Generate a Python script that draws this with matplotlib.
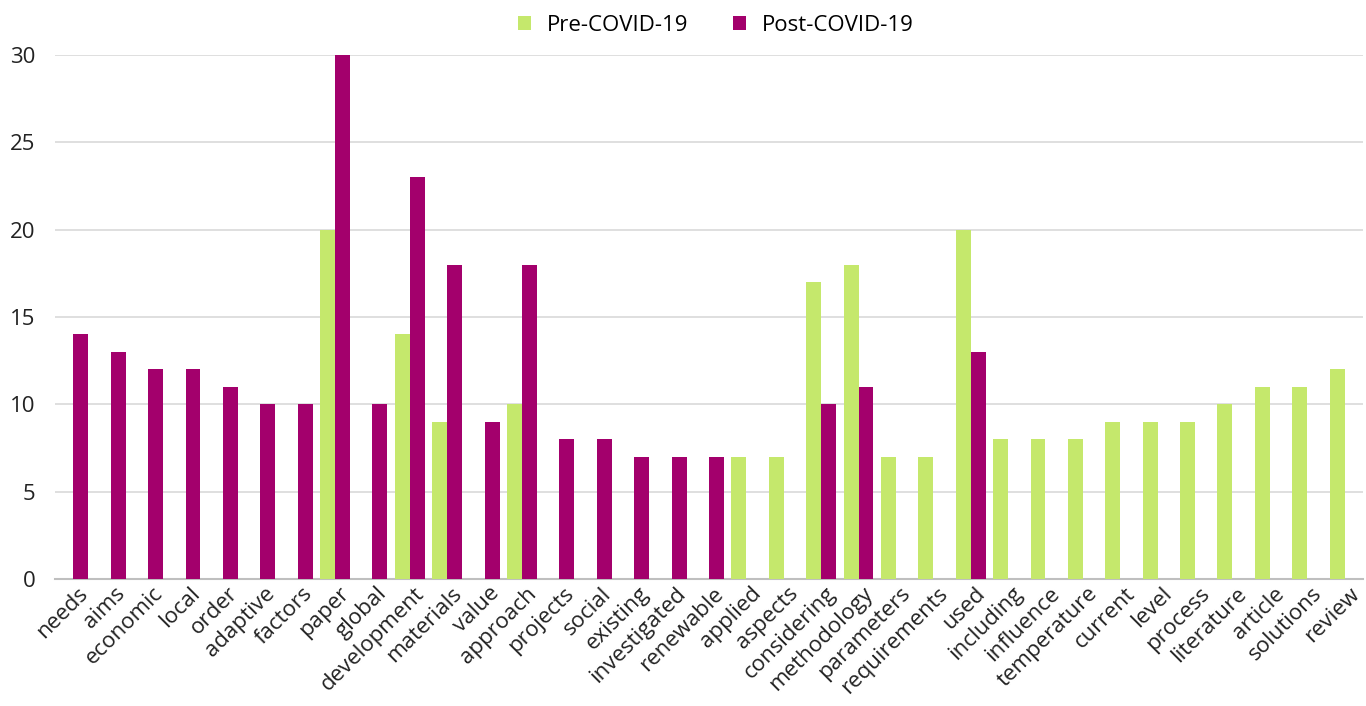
import matplotlib
matplotlib.use("Agg")
import matplotlib.pyplot as plt
import matplotlib.transforms as mtransforms
import numpy as np

categories = ["needs", "aims", "economic", "local", "order", "adaptive", "factors", "paper",
              "global", "development", "materials", "value", "approach", "projects", "social",
              "existing", "investigated", "renewable", "applied", "aspects", "considering",
              "methodology", "parameters", "requirements", "used", "including", "influence",
              "temperature", "current", "level", "process", "literature", "article",
              "solutions", "review"]
pre_covid = [0, 0, 0, 0, 0, 0, 0, 20, 0, 14, 9, 0, 10, 0, 0, 0, 0, 0, 7, 7, 17, 18, 7, 7,
             20, 8, 8, 8, 9, 9, 9, 10, 11, 11, 12]
post_covid = [14, 13, 12, 12, 11, 10, 10, 30, 10, 23, 18, 9, 18, 8, 8, 7, 7, 7, 0, 0, 10, 11,
              0, 0, 13, 0, 0, 0, 0, 0, 0, 0, 0, 0, 0]
y_ticks = [0, 5, 10, 15, 20, 25, 30]

plt.rcParams['font.family'] = ['Open Sans', 'DejaVu Sans']

fig = plt.figure(figsize=(13.66, 7.06), dpi=100)
ax = fig.add_axes([0.040, 0.180, 0.958, 0.742])

x = np.arange(len(categories))
w = 0.4
pre_col = "#C5E86C"
post_col = "#A3006C"
ax.bar(x - w / 2, pre_covid, width=w, color=pre_col, label="Pre-COVID-19", zorder=3)
ax.bar(x + w / 2, post_covid, width=w, color=post_col, label="Post-COVID-19", zorder=3)

ax.set_xlim(-0.5, len(categories) - 0.5)
ax.set_ylim(0, 30)
ax.set_yticks(y_ticks)
ax.set_yticklabels([str(t) for t in y_ticks], fontsize=16, color="#222222")
ax.yaxis.grid(True, color="#D9D9D9", linewidth=1.2, zorder=0)
ax.tick_params(axis="y", length=0, pad=14)
ax.tick_params(axis="x", length=0, pad=3)
ax.set_xticks(x)
ax.set_xticklabels(categories, rotation=45, ha="right", rotation_mode="anchor",
                   fontsize=16, color="#222222")
offset = mtransforms.ScaledTranslation(4 / 100, 0, fig.dpi_scale_trans)
for lab in ax.get_xticklabels():
    lab.set_transform(lab.get_transform() + offset)
for s in ["top", "right", "left"]:
    ax.spines[s].set_visible(False)
ax.spines["bottom"].set_color("#BFBFBF")
ax.spines["bottom"].set_linewidth(1.5)

ax.legend(loc="upper center", bbox_to_anchor=(0.505, 1.115), ncol=2, frameon=False,
          fontsize=16, handlelength=0.6, handleheight=0.6, columnspacing=2.0,
          handletextpad=0.7)

fig.savefig("out.png", dpi=100)
